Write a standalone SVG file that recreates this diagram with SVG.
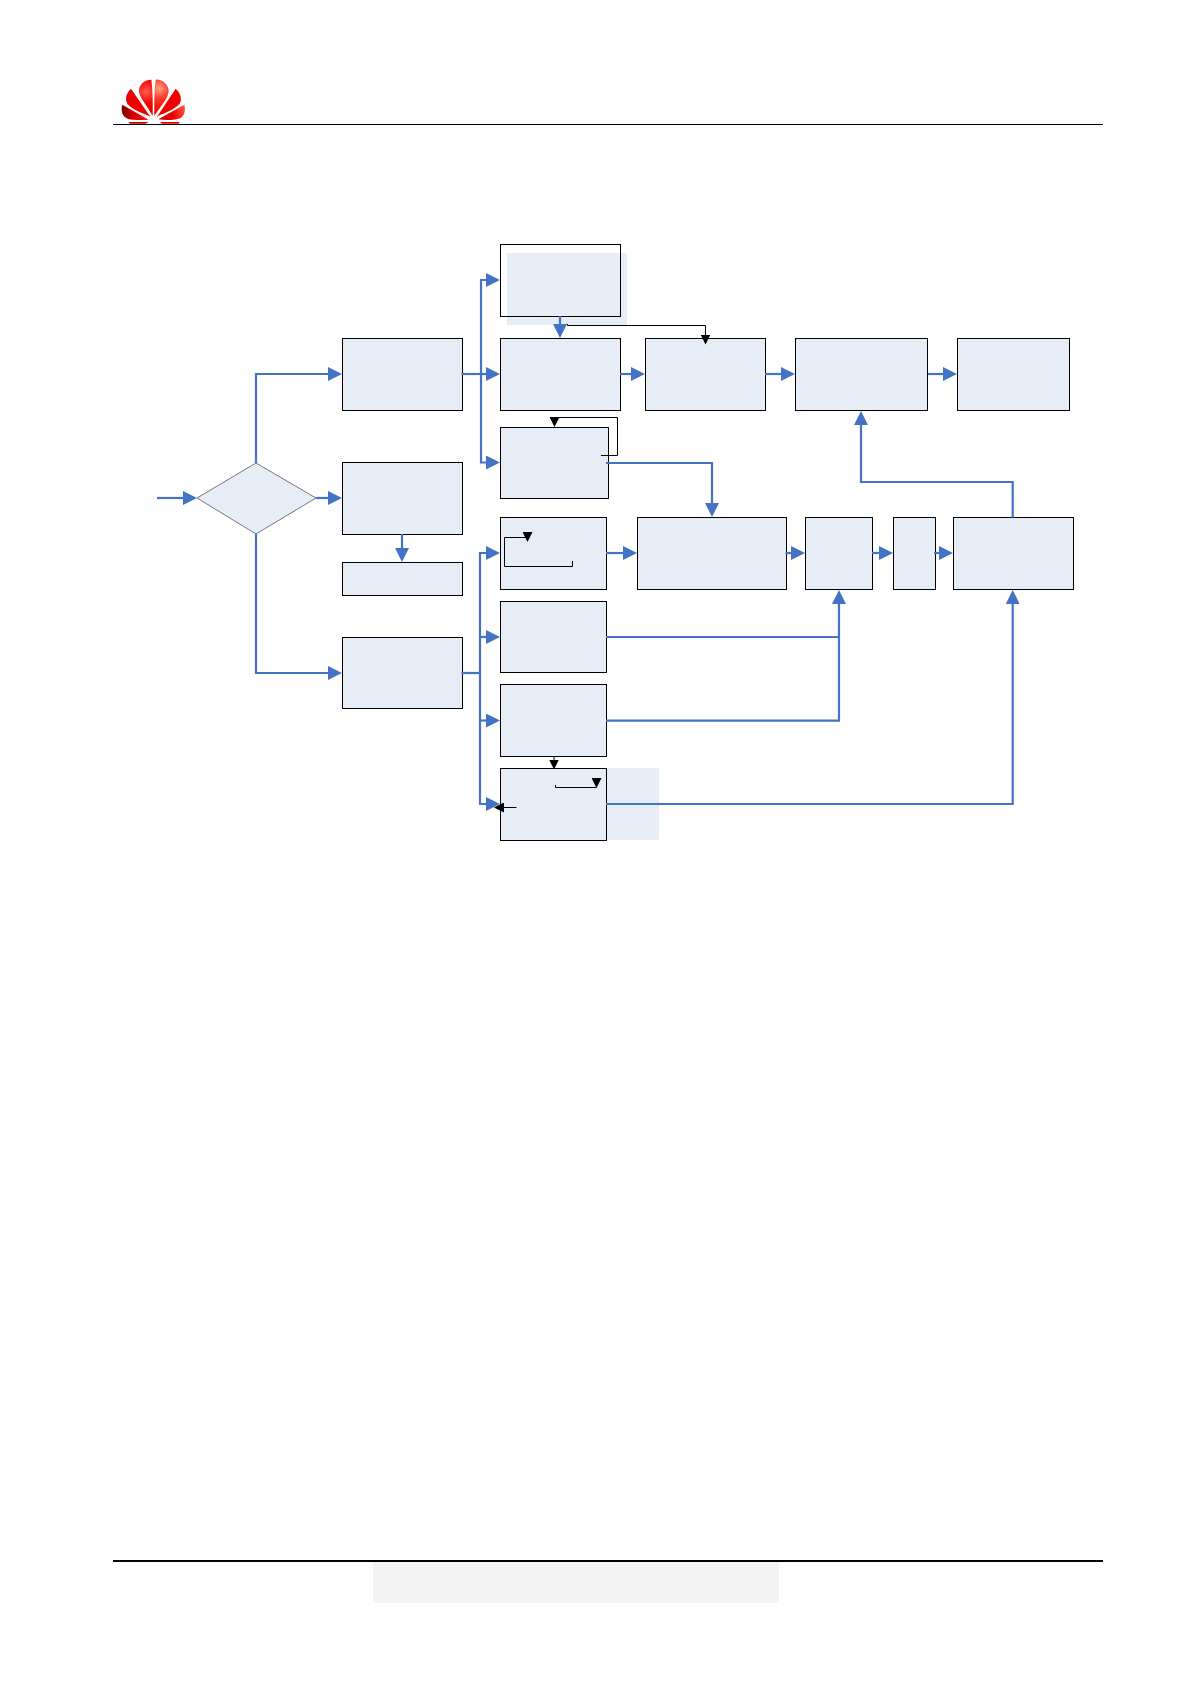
<svg xmlns="http://www.w3.org/2000/svg" width="1192" height="1685" viewBox="0 0 1192 1685">
<style>
.n{fill:#E6EDF7;stroke:#000;stroke-width:1}
.o{fill:none;stroke:#000;stroke-width:1}
.f{fill:#E6EDF7;stroke:none}
.b{fill:none;stroke:#4472C4;stroke-width:2.2;marker-end:url(#ab)}
.p{fill:none;stroke:#4472C4;stroke-width:2.2}
.k{fill:none;stroke:#000;stroke-width:1;marker-end:url(#ak)}
.kp{fill:none;stroke:#000;stroke-width:1}
</style>
<defs>
<marker id="ab" markerUnits="userSpaceOnUse" markerWidth="14" markerHeight="14" viewBox="0 0 14 14" refX="1" refY="7" orient="auto"><path d="M0 0L14 7L0 14Z" fill="#4472C4"/></marker>
<marker id="ak" markerUnits="userSpaceOnUse" markerWidth="10" markerHeight="10" viewBox="0 0 10 10" refX="0.5" refY="5" orient="auto"><path d="M0 0L10 5L0 10Z" fill="#000"/></marker>
<radialGradient id="r1" gradientUnits="userSpaceOnUse" cx="178" cy="85" r="75"><stop offset="0" stop-color="#FFA080"/><stop offset=".45" stop-color="#FF3020"/><stop offset="1" stop-color="#F00000"/></radialGradient>
<radialGradient id="r2" gradientUnits="userSpaceOnUse" cx="138" cy="95" r="60"><stop offset="0" stop-color="#FF6050"/><stop offset=".6" stop-color="#F50000"/><stop offset="1" stop-color="#E00000"/></radialGradient>
<linearGradient id="r3" gradientUnits="userSpaceOnUse" x1="70" y1="165" x2="140" y2="160"><stop offset="0" stop-color="#800000"/><stop offset=".45" stop-color="#E00000"/><stop offset="1" stop-color="#FF1010"/></linearGradient>
<linearGradient id="r4" gradientUnits="userSpaceOnUse" x1="255" y1="150" x2="180" y2="170"><stop offset="0" stop-color="#FF5040"/><stop offset=".5" stop-color="#F00000"/><stop offset="1" stop-color="#D80000"/></linearGradient>
</defs>
<g id="logo" transform="translate(100 60) scale(.3333)">
<path d="M158 168C159 130 158 90 154 59C135 59 117 73 117 92C117 114 142 135 158 168Z" fill="url(#r2)"/>
<path d="M163 168C163 130 163 90 167 59C186 57 206 74 206 92C206 114 180 140 163 168Z" fill="url(#r1)"/>
<path d="M151 170L93 86C83 95 76 108 79 124C83 144 120 156 151 170Z" fill="#F00000"/>
<path d="M171 170L227 86C239 97 245 110 242 124C237 144 200 156 171 170Z" fill="#F00000"/>
<path d="M146 179L67 134C62 150 66 171 85 177C100 181 125 181 146 179Z" fill="url(#r3)"/>
<path d="M175 178L253 134C257 150 255 171 236 176C220 181 195 181 175 178Z" fill="url(#r4)"/>
<path d="M85 186L146 186L136 191L90 191Z" fill="#C00000"/>
<path d="M180 186L240 186L235 191L186 191Z" fill="#E00000"/>
</g>
<rect id="header-rule" x="113" y="124" width="990" height="1" fill="#000"/>
<rect id="footer-rule" x="113" y="1560" width="990" height="2" fill="#000"/>
<rect id="footer-band" x="373" y="1562" width="406" height="41" fill="#F4F4F4"/>
<g id="nodes">
<g id="decision"><path class="f" d="M197 498L256 463L316 498L256 534Z" style="stroke:#555;stroke-width:.8"/></g>
<g id="b1"><rect class="n" x="342.5" y="338.5" width="120" height="72"/></g>
<g id="b2"><rect class="n" x="342.5" y="462.5" width="120" height="72"/></g>
<g id="b3"><rect class="n" x="342.5" y="562.5" width="120" height="33"/></g>
<g id="b4"><rect class="n" x="342.5" y="637.5" width="120" height="71"/></g>
<g id="c1"><rect class="f" x="507" y="253" width="120" height="72"/><rect class="o" x="500.5" y="244.5" width="120" height="72"/></g>
<g id="c2"><rect class="n" x="500.5" y="338.5" width="120" height="72"/></g>
<g id="d2"><rect class="n" x="645.5" y="338.5" width="120" height="72"/></g>
<g id="e2"><rect class="n" x="795.5" y="338.5" width="132" height="72"/></g>
<g id="f2"><rect class="n" x="957.5" y="338.5" width="112" height="72"/></g>
<g id="c3"><rect class="n" x="500.5" y="427.5" width="108" height="71"/></g>
<g id="c4"><rect class="n" x="500.5" y="517.5" width="106" height="72"/></g>
<g id="wide"><rect class="n" x="637.5" y="517.5" width="149" height="72"/></g>
<g id="g"><rect class="n" x="805.5" y="517.5" width="67" height="72"/></g>
<g id="h"><rect class="n" x="893.5" y="517.5" width="42" height="72"/></g>
<g id="i"><rect class="n" x="953.5" y="517.5" width="120" height="72"/></g>
<g id="c5"><rect class="n" x="500.5" y="601.5" width="106" height="71"/></g>
<g id="c6"><rect class="n" x="500.5" y="684.5" width="106" height="72"/></g>
<g id="c7"><rect class="f" x="607" y="768" width="52" height="72"/><rect class="n" x="500.5" y="768.5" width="106" height="72"/></g>
</g>
<g id="connectors">
<path class="b" d="M157 498H184"/>
<path class="b" d="M256 463V374H329"/>
<path class="b" d="M316 498H329"/>
<path class="b" d="M256 534V673H329"/>
<path class="b" d="M402 534V549"/>
<path class="p" d="M461.5 374H481"/>
<path class="b" d="M481 374H487"/>
<path class="b" d="M481 374V280H487"/>
<path class="b" d="M481 374V462.5H487"/>
<path class="b" d="M560 316V325"/>
<path class="b" d="M620 374H632"/>
<path class="b" d="M765 374H782"/>
<path class="b" d="M928 374H944"/>
<path class="b" d="M606 463H712V504"/>
<path class="b" d="M606 553H624"/>
<path class="b" d="M785.5 553H792"/>
<path class="b" d="M872 553H880"/>
<path class="b" d="M934 553H940"/>
<path class="b" d="M1012.7 517.5V482H861V424"/>
<path class="p" d="M461.5 673H480"/>
<path class="b" d="M480 673V553H487"/>
<path class="b" d="M480 637H487"/>
<path class="b" d="M480 720.5H487"/>
<path class="b" d="M480 673V804H487"/>
<path class="p" d="M606 637H839"/>
<path class="b" d="M606 720.7H839V603"/>
<path class="b" d="M606 804H1012.7V603"/>
<path class="k" d="M567.5 324V325.5H705.5V335"/>
<path class="kp" d="M601 455.5H617.5V417.5H554.5"/>
<path class="k" d="M554.5 417V417.5"/>
<path class="kp" d="M572.5 561V566.5H504.5V537.5H527.5"/>
<path class="k" d="M527.5 532V532.5"/>
<path class="k" d="M554 756.5V760"/>
<path class="kp" d="M555.5 785V787.5H596.5"/>
<path class="k" d="M596.5 778V778.5"/>
<path class="k" d="M516.5 807.5H503.5"/>
</g>
</svg>
